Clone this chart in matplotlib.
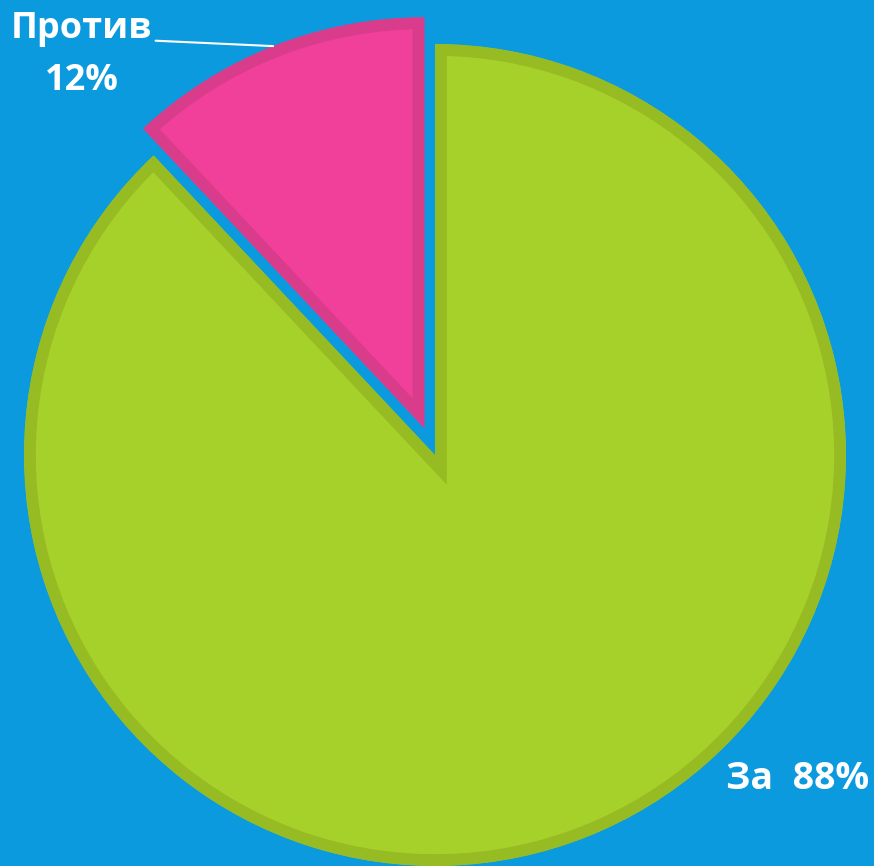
import numpy as np
import matplotlib.pyplot as plt

# chart data
labels = ['За', 'Против']
values = [88, 12]
fills = ['#a6d12a', '#f0409a']
edges = ['#97bb22', '#d93c8b']
explode = [0, 0.07]

BG = '#0b9ade'
W, H = 874, 866
cx, cy, r = 435, 455, 411  # pie centre / radius in pixels

fig = plt.figure(figsize=(W / 100, H / 100), dpi=100, facecolor=BG)
ax = fig.add_axes([0, 0, 1, 1])
ax.set_facecolor(BG)

wedges, _ = ax.pie(values, colors=fills, startangle=90, counterclock=False,
                   explode=explode, radius=1,
                   wedgeprops=dict(linewidth=17, joinstyle='miter'))
for w, ec in zip(wedges, edges):
    w.set_edgecolor(ec)
    w.set_clip_on(True)
    w.set_clip_path(w)  # keep only the inner half of the border

ax.set_aspect('auto')
ax.set_xlim(-cx / r, (W - cx) / r)
ax.set_ylim(-(H - cy) / r, cy / r)
ax.axis('off')

font = ['Open Sans', 'DejaVu Sans']

# label for the small slice, with leader line to the arc
pw = wedges[1]
mid = np.deg2rad((pw.theta1 + pw.theta2) / 2)
arc_pt = (pw.center[0] + np.cos(mid), pw.center[1] + np.sin(mid))
ax.annotate('', xy=arc_pt, xytext=(0.178, 0.953), textcoords='figure fraction',
            arrowprops=dict(arrowstyle='-', color='white', lw=1.5,
                            shrinkA=0, shrinkB=0))
fig.text(0.093, 0.967, labels[1], color='white', fontsize=26, fontweight='bold',
         family=font, ha='center', va='center')
fig.text(0.094, 0.907, f'{values[1]}%', color='white', fontsize=26,
         fontweight='bold', family=font, ha='center', va='center')

fig.text(0.912, 0.101, f'{labels[0]}  {values[0]}%', color='white', fontsize=27,
         fontweight='bold', family=font, ha='center', va='center')

fig.savefig('out.png', dpi=100, facecolor=BG)
